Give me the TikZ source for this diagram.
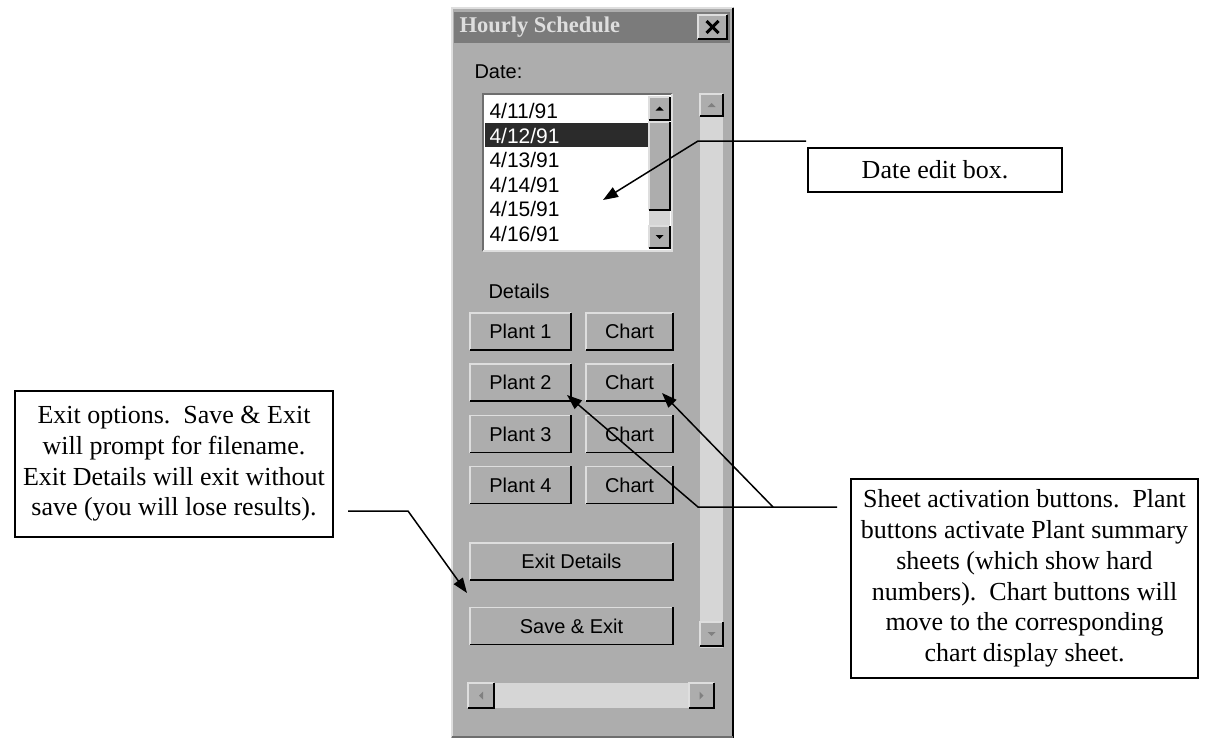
\documentclass[tikz,border=0pt]{standalone}
\usepackage{fontspec}
\setmainfont{Liberation Serif}
\newfontfamily\uisans{Liberation Sans}
\usetikzlibrary{arrows.meta}

\definecolor{winface}{HTML}{ADADAD}
\definecolor{wintitle}{HTML}{7B7B7B}
\definecolor{wintrack}{HTML}{D6D6D6}
\definecolor{winlight}{HTML}{DEDEDE}
\definecolor{winshade}{HTML}{6E6E6E}
\definecolor{winsel}{HTML}{2B2B2B}

\newcommand{\notefont}{\fontsize{26}{30.7}\selectfont}
\newcommand{\uifont}{\uisans\fontsize{20}{22}\selectfont}

% raised and sunken 3d edges of a node
\newcommand{\bevelup}[1]{%
  \draw[winlight,line width=1.5pt] (#1.south west) -- (#1.north west) -- (#1.north east);
  \draw[black,line width=1.5pt] (#1.south west) -- (#1.south east) -- (#1.north east);
}
\newcommand{\bevelin}[1]{%
  \draw[winshade,line width=1.5pt] (#1.south west) -- (#1.north west) -- (#1.north east);
  \draw[winlight,line width=1.5pt] (#1.south west) -- (#1.south east) -- (#1.north east);
}

\tikzset{
  pushbtn/.style={fill=winface,minimum width=#1,minimum height=37,inner sep=0pt,font=\uifont},
  arrowbtn/.style 2 args={fill=winface,minimum width=#1,minimum height=#2,inner sep=0pt},
  note/.style={draw,line width=1.3pt,fill=white,align=center,inner sep=0pt,font=\notefont},
  callout/.style={line width=1.5pt,-{Triangle[length=15pt,width=11pt]}},
}

\begin{document}
\begin{tikzpicture}[x=1pt,y=-1pt]
\useasboundingbox (0,0) rectangle (1206,739);
\fill[white] (0,0) rectangle (1206,739);

% dialog window
\fill[winface] (451,7) rectangle (734,738);
\draw[winlight,line width=1.5pt] (452,737) -- (452,8) -- (733,8);
\draw[black,line width=2pt] (733,8) -- (733,738);
\draw[winshade,line width=1.5pt] (452,737) -- (733,737);
\fill[wintitle] (454,12) rectangle (730,43);
\node[anchor=west,text=winlight,font=\bfseries\fontsize{22.5}{24}\selectfont] (title) at (456,27.5) {Hourly Schedule};
\node[arrowbtn={29}{24}] (closebtn) at (712.5,27) {};
\bevelup{closebtn}
\draw[line width=3pt] ([shift={(-6,-6)}]closebtn.center) -- ([shift={(6,6)}]closebtn.center);
\draw[line width=3pt] ([shift={(-6,6)}]closebtn.center) -- ([shift={(6,-6)}]closebtn.center);

\node[anchor=west,font=\uifont] (datelbl) at (471,72) {Date:};

% date list
\node[fill=white,minimum width=189,minimum height=157,inner sep=0pt] (datelist) at (577.5,172.5) {};
\bevelin{datelist}
\fill[winsel] (485,123) rectangle (648,147);
\foreach \d/\c [count=\i] in {11/black,12/white,13/black,14/black,15/black,16/black}
  \node[anchor=west,text=\c,font=\uisans\fontsize{21}{23}\selectfont] (day\d) at (486,{111+24.6*(\i-1)}) {4/\d/91};
\fill[wintrack] (649,96) rectangle (670,249);
\node[arrowbtn={21}{23}] (listup) at (659.5,108.5) {};
\node[arrowbtn={21}{88}] (listthumb) at (659.5,166) {};
\node[arrowbtn={21}{22}] (listdown) at (659.5,237) {};
\bevelup{listup} \bevelup{listthumb} \bevelup{listdown}
\fill (listup.center) ++(-4,2) -- ++(8,0) -- ++(-4,-4) -- cycle;
\fill (listdown.center) ++(-4,-2) -- ++(8,0) -- ++(-4,4) -- cycle;

% outer scroll bars
\fill[wintrack] (700,94) rectangle (723,648);
\node[arrowbtn={23}{22}] (vup) at (711.5,105) {};
\node[arrowbtn={23}{24}] (vdown) at (711.5,634) {};
\bevelup{vup} \bevelup{vdown}
\fill[gray] (vup.center) ++(-4,2) -- ++(8,0) -- ++(-4,-4) -- cycle;
\fill[gray] (vdown.center) ++(-4,-2) -- ++(8,0) -- ++(-4,4) -- cycle;
\fill[wintrack] (468,683) rectangle (714,708);
\node[arrowbtn={26}{25}] (hleft) at (481,695.5) {};
\node[arrowbtn={25}{25}] (hright) at (701.5,695.5) {};
\bevelup{hleft} \bevelup{hright}
\fill[gray] (hleft.center) ++(2,-4) -- ++(0,8) -- ++(-4,-4) -- cycle;
\fill[gray] (hright.center) ++(-2,-4) -- ++(0,8) -- ++(4,-4) -- cycle;

% buttons
\node[anchor=west,font=\uifont] (detlbl) at (485,291) {Details};
\foreach \n/\y in {1/331.5,2/382.5,3/434,4/485}{
  \node[pushbtn=101] (plant\n) at (520.5,\y) {Plant \n};
  \node[pushbtn=87] (chart\n) at (629.5,\y) {Chart};
  \bevelup{plant\n} \bevelup{chart\n}
}
\node[pushbtn=203] (exitdet) at (571.5,561.5) {Exit Details};
\node[pushbtn=203] (saveexit) at (571.5,626) {Save \& Exit};
\bevelup{exitdet} \bevelup{saveexit}

% notes
\node[note,minimum width=254,minimum height=44] (datenote) at (935,170) {Date edit box.};
\node[note,minimum width=318,minimum height=146] (exitnote) at (174,464)
  {Exit options.\ \ Save \& Exit\\will prompt for filename.\\Exit Details will exit without\\save (you will lose results).};
\node[note,minimum width=347,minimum height=199] (sheetnote) at (1024.5,578.5)
  {Sheet activation buttons.\ \ Plant\\buttons activate Plant summary\\sheets (which show hard\\numbers).\ \ Chart buttons will\\move to the corresponding\\chart display sheet.};

% leader lines
\coordinate (datefree) at (806,141);
\coordinate (datebend) at (698,141);
\coordinate (datetip) at (603,200);
\coordinate (exitfree) at (348,511);
\coordinate (exitbend) at (408,511);
\coordinate (exittip) at (467,593);
\coordinate (sheetfree) at (837,507);
\coordinate (chartbend) at (773,507);
\coordinate (plantbend) at (698,507);
\coordinate (charttip) at (662,393);
\coordinate (planttip) at (567,395);
\draw[callout] (datefree) -- (datebend) -- (datetip);
\draw[callout] (exitfree) -- (exitbend) -- (exittip);
\draw[callout] (sheetfree) -- (plantbend) -- (planttip);
\draw[callout] (chartbend) -- (charttip);
\end{tikzpicture}
\end{document}
